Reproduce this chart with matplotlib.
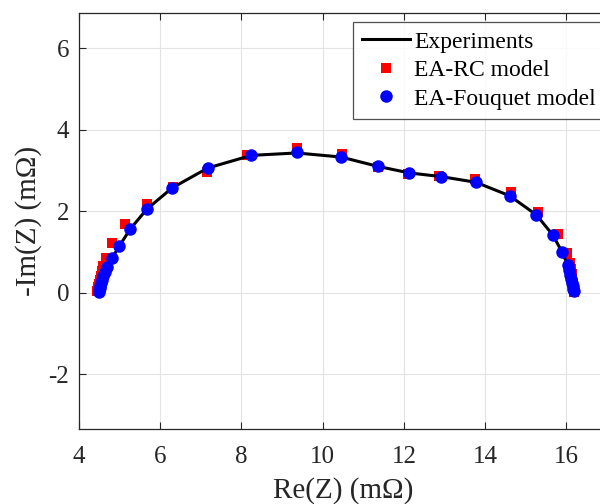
import matplotlib
matplotlib.use("Agg")
from matplotlib import pyplot as plt

plt.rcParams['font.family'] = ['Liberation Serif', 'DejaVu Serif']
plt.rcParams['axes.unicode_minus'] = False

# measured spectrum (Nyquist), Re in mOhm, -Im in mOhm
exp_re = [4.49, 4.50, 4.51, 4.52, 4.54, 4.56, 4.59, 4.63, 4.68, 4.81, 4.99, 5.26,
          5.67, 6.29, 7.17, 8.24, 9.36, 10.45, 11.36, 12.13, 12.91, 13.77, 14.60,
          15.26, 15.67, 15.89, 16.03, 16.07, 16.10, 16.12, 16.14, 16.16, 16.17, 16.18]
exp_im = [0.02, 0.06, 0.11, 0.17, 0.24, 0.32, 0.41, 0.51, 0.63, 0.84, 1.14, 1.56,
          2.05, 2.57, 3.06, 3.37, 3.43, 3.33, 3.10, 2.94, 2.85, 2.71, 2.38,
          1.91, 1.41, 1.00, 0.69, 0.55, 0.43, 0.33, 0.24, 0.16, 0.09, 0.03]

# EA-RC model
rc_re = [4.45, 4.46, 4.47, 4.49, 4.51, 4.53, 4.56, 4.60, 4.66, 4.81, 5.13, 5.67,
         6.32, 7.14, 8.14, 9.36, 10.47, 11.37, 12.10, 12.87, 13.75, 14.63, 15.29,
         15.80, 16.01, 16.08, 16.11, 16.13, 16.15, 16.16, 16.17, 16.18, 16.19]
rc_im = [0.03, 0.08, 0.14, 0.21, 0.30, 0.40, 0.52, 0.66, 0.86, 1.23, 1.68, 2.17,
         2.59, 2.97, 3.38, 3.55, 3.41, 3.08, 2.91, 2.87, 2.79, 2.46, 1.97,
         1.43, 0.98, 0.73, 0.58, 0.45, 0.34, 0.24, 0.15, 0.08, 0.02]

# EA-Fouquet model
fq_re = [4.49, 4.50, 4.51, 4.52, 4.54, 4.56, 4.59, 4.63, 4.68, 4.81, 4.99, 5.26,
         5.67, 6.29, 7.17, 8.24, 9.36, 10.45, 11.36, 12.13, 12.91, 13.77, 14.60,
         15.26, 15.67, 15.89, 16.03, 16.07, 16.10, 16.12, 16.14, 16.16, 16.17, 16.18]
fq_im = [0.02, 0.06, 0.11, 0.17, 0.24, 0.32, 0.41, 0.51, 0.63, 0.84, 1.14, 1.56,
         2.05, 2.57, 3.06, 3.37, 3.45, 3.33, 3.10, 2.94, 2.85, 2.71, 2.38,
         1.91, 1.41, 1.00, 0.69, 0.55, 0.43, 0.33, 0.24, 0.16, 0.09, 0.03]

xticks = [4, 6, 8, 10, 12, 14, 16]
yticks = [-2, 0, 2, 4, 6]

fig = plt.figure(figsize=(6, 5.04), dpi=100)
# right edge of the axes falls just outside the picture, like the original crop
ax = fig.add_axes([0.1317, 0.1488, 0.88, 0.8248])

ax.plot(rc_re, rc_im, 's', color='#ff0000', markersize=6.5, markeredgewidth=0,
        label='EA-RC model', zorder=2)
ax.plot(exp_re, exp_im, '-', color='black', linewidth=2.2, label='Experiments', zorder=3)
ax.plot(fq_re, fq_im, 'o', color='#0000ff', markersize=9, markeredgewidth=0,
        label='EA-Fouquet model', zorder=4)

ax.set_xlim(4, 17)
ax.set_ylim(-3.35, 6.86)
ax.set_xticks(xticks)
ax.set_yticks(yticks)
ax.set_xticklabels([str(t) for t in xticks])
ax.set_yticklabels([str(t) for t in yticks])
ax.grid(True, color='#e3e3e3', linewidth=0.8)
ax.set_axisbelow(True)
ax.tick_params(direction='in', top=True, right=True, labelsize=18,
               colors='#262626', length=5, width=0.8)
ax.tick_params(axis='x', pad=12)
ax.tick_params(axis='y', pad=7)
for s in ax.spines.values():
    s.set_color('#262626')
    s.set_linewidth(0.9)

ax.set_xlabel('Re(Z) (m\u03a9)', fontsize=21, color='#262626', labelpad=7)
ax.set_ylabel('-Im(Z) (m\u03a9)', fontsize=21, color='#262626', labelpad=5)

handles, labels = ax.get_legend_handles_labels()
order = [1, 0, 2]
leg = ax.legend([handles[i] for i in order], [labels[i] for i in order],
                loc='upper left', bbox_to_anchor=(0.519, 0.979), fontsize=17,
                frameon=True, fancybox=False, borderpad=0.38, labelspacing=0.3,
                handlelength=2.05, handletextpad=0.15, borderaxespad=0)
leg.get_frame().set_edgecolor('#262626')
leg.get_frame().set_linewidth(0.9)

fig.savefig('out.png', dpi=100)
